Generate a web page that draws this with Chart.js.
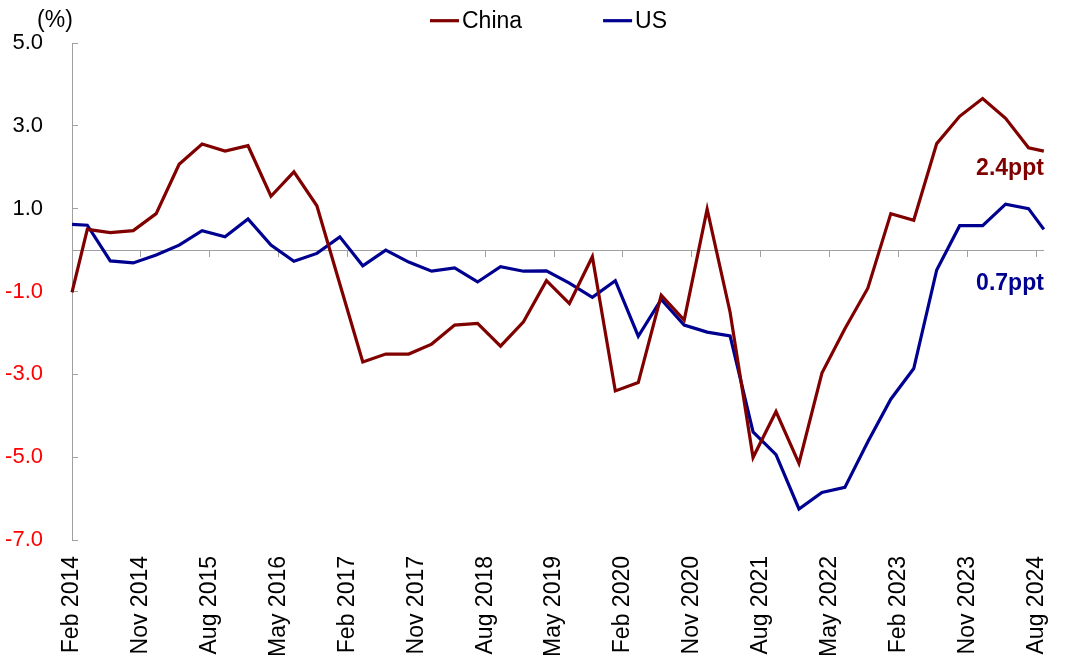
<!DOCTYPE html>
<html>
<head>
<meta charset="utf-8">
<script src="https://cdn.jsdelivr.net/npm/chart.js@4.4.1/dist/chart.umd.min.js"></script>
<style>
  html, body { margin: 0; padding: 0; background: #ffffff; }
  #wrap { width: 1080px; height: 662px; }
</style>
</head>
<body>
<div id="wrap"><canvas id="c" width="1080" height="662"></canvas></div>
<script>
// ---- DATA ----
const dates = [
  "Feb 2014","Apr 2014","Jul 2014","Oct 2014",
  "Jan 2015","Apr 2015","Jul 2015","Oct 2015",
  "Jan 2016","Apr 2016","Jul 2016","Oct 2016",
  "Jan 2017","Apr 2017","Jul 2017","Oct 2017",
  "Jan 2018","Apr 2018","Jul 2018","Oct 2018",
  "Jan 2019","Apr 2019","Jul 2019","Oct 2019",
  "Jan 2020","Apr 2020","Jul 2020","Oct 2020",
  "Jan 2021","Apr 2021","Jul 2021","Oct 2021",
  "Jan 2022","Apr 2022","Jul 2022","Oct 2022",
  "Jan 2023","Apr 2023","Jul 2023","Oct 2023",
  "Jan 2024","Apr 2024","Jul 2024","Sep 2024"
];
const china = [
  -1.02, 0.50, 0.42, 0.47,
  0.88, 2.07, 2.56, 2.39,
  2.52, 1.30, 1.89, 1.07,
  -0.82, -2.70, -2.51, -2.51,
  -2.27, -1.81, -1.77, -2.32,
  -1.73, -0.74, -1.29, -0.16,
  -3.40, -3.20, -1.09, -1.69,
  0.99, -1.50, -5.01, -3.90,
  -5.15, -2.97, -1.90, -0.92,
  0.88, 0.72, 2.57, 3.23,
  3.66, 3.18, 2.47, 2.39
];
const us = [
  0.62, 0.60, -0.26, -0.31,
  -0.12, 0.12, 0.47, 0.32,
  0.75, 0.12, -0.27, -0.08,
  0.32, -0.38, 0.00, -0.29,
  -0.51, -0.43, -0.77, -0.40,
  -0.51, -0.50, -0.80, -1.14,
  -0.74, -2.08, -1.19, -1.81,
  -1.98, -2.07, -4.39, -4.94,
  -6.25, -5.85, -5.73, -4.63,
  -3.60, -2.86, -0.48, 0.59,
  0.59, 1.11, 1.00, 0.50
];
const seriesNames = ["China", "US"];
const seriesColors = ["#800000", "#000090"];
const endLabels = ["2.4ppt", "0.7ppt"];
const xTickLabels = [
  "Feb 2014","Nov 2014","Aug 2015","May 2016","Feb 2017","Nov 2017","Aug 2018",
  "May 2019","Feb 2020","Nov 2020","Aug 2021","May 2022","Feb 2023","Nov 2023","Aug 2024"
];
const yTicks = [-7, -5, -3, -1, 1, 3, 5];
const yUnit = "(%)";

// ---- helpers ----
const MONTHS = ["Jan","Feb","Mar","Apr","May","Jun","Jul","Aug","Sep","Oct","Nov","Dec"];
function monthIndex(label) {
  const [m, y] = label.split(" ");
  return (parseInt(y, 10) - 2014) * 12 + MONTHS.indexOf(m) - 1;
}
const xMin = monthIndex(dates[0]);
const xMax = monthIndex(dates[dates.length - 1]);
const tickMap = {};
xTickLabels.forEach(l => { tickMap[monthIndex(l)] = l; });

const FONT = "'Liberation Sans', Arial, Helvetica, sans-serif";
const AXIS_GREY = "#a0a0a0";

function toPoints(vals) { return vals.map((v, i) => ({ x: monthIndex(dates[i]), y: v })); }

// custom legend (line sample + text), centred at top
const legendPlugin = {
  id: 'topLegend',
  afterDraw(chart) {
    const ctx = chart.ctx;
    ctx.save();
    ctx.font = "23px " + FONT;
    const lineLen = 29, gapText = 3, gapItems = 81;
    const widths = chart.data.datasets.map(d => lineLen + gapText + ctx.measureText(d.label).width);
    const total = widths.reduce((a, b) => a + b, 0) + gapItems * (widths.length - 1);
    let x = 548.5 - total / 2;
    const lineY = 20.7, baseY = 28.3;
    chart.data.datasets.forEach((d, i) => {
      ctx.strokeStyle = d.borderColor;
      ctx.lineWidth = 3.2;
      ctx.beginPath();
      ctx.moveTo(x, lineY);
      ctx.lineTo(x + lineLen, lineY);
      ctx.stroke();
      ctx.fillStyle = "#000000";
      ctx.textAlign = "left";
      ctx.textBaseline = "alphabetic";
      ctx.fillText(d.label, x + lineLen + gapText, baseY);
      x += widths[i] + gapItems;
    });
    ctx.restore();
  }
};

// unit label and end-of-line annotations
const textPlugin = {
  id: 'extraText',
  afterDraw(chart) {
    const ctx = chart.ctx;
    const ys = chart.scales.y, xs = chart.scales.x;
    ctx.save();
    ctx.font = "23px " + FONT;
    ctx.fillStyle = "#000000";
    ctx.textAlign = "center";
    ctx.textBaseline = "alphabetic";
    ctx.fillText(yUnit, ys.right - 17, ys.top - 16);
    const offsets = [24, 61];
    ctx.font = "bold 23px " + FONT;
    ctx.textAlign = "right";
    chart.data.datasets.forEach((d, i) => {
      const last = d.data[d.data.length - 1];
      ctx.fillStyle = d.borderColor;
      ctx.fillText(endLabels[i], xs.right, ys.getPixelForValue(last.y) + offsets[i]);
    });
    ctx.restore();
  }
};

const setXTicks = (scale) => { scale.ticks = xTickLabels.map(l => ({ value: monthIndex(l) })); };
const setYTicks = (scale) => { scale.ticks = yTicks.map(v => ({ value: v })); };

new Chart(document.getElementById('c'), {
  type: 'line',
  data: {
    datasets: [
      { label: seriesNames[0], data: toPoints(china), borderColor: seriesColors[0], backgroundColor: seriesColors[0] },
      { label: seriesNames[1], data: toPoints(us), borderColor: seriesColors[1], backgroundColor: seriesColors[1] }
    ]
  },
  options: {
    responsive: false,
    animation: false,
    devicePixelRatio: 1,
    layout: { padding: { top: 43, right: 27, bottom: 0, left: 0 } },
    elements: {
      line: { borderWidth: 3.2, tension: 0, fill: false, borderCapStyle: 'butt', borderJoinStyle: 'miter' },
      point: { radius: 0, hoverRadius: 0 }
    },
    datasets: { line: { clip: false } },
    plugins: { legend: { display: false }, tooltip: { enabled: false } },
    scales: {
      x: {
        type: 'linear',
        position: 'bottom',
        min: xMin,
        max: xMax,
        afterBuildTicks: setXTicks,
        afterFit: (s) => { s.height = 122; },
        grid: { display: false, drawTicks: false },
        border: { display: false },
        ticks: {
          autoSkip: false,
          minRotation: 90,
          maxRotation: 90,
          padding: 16,
          color: '#000000',
          font: { family: FONT, size: 23 },
          callback: (v) => tickMap[v] || ''
        }
      },
      x2: {
        type: 'linear',
        axis: 'x',
        position: { y: 0 },
        min: xMin,
        max: xMax,
        afterBuildTicks: setXTicks,
        afterFit: (s) => { s.height = 0; },
        grid: { display: true, drawOnChartArea: false, drawTicks: true, tickLength: 6, color: AXIS_GREY, lineWidth: 1 },
        border: { display: true, color: AXIS_GREY, width: 1 },
        ticks: { display: false }
      },
      y: {
        type: 'linear',
        position: 'left',
        min: yTicks[0],
        max: yTicks[yTicks.length - 1],
        afterBuildTicks: setYTicks,
        afterFit: (s) => { s.width = 72; },
        grid: { display: false, drawTicks: false },
        border: { display: false },
        ticks: {
          padding: 29,
          font: { family: FONT, size: 22 },
          color: (c) => (c.tick && c.tick.value < 0) ? '#ff0000' : '#000000',
          callback: (v) => Number(v).toFixed(1)
        }
      },
      y2: {
        type: 'linear',
        axis: 'y',
        position: { x: xMin },
        min: yTicks[0],
        max: yTicks[yTicks.length - 1],
        afterBuildTicks: setYTicks,
        afterFit: (s) => { s.width = 0; },
        grid: { display: true, drawOnChartArea: false, drawTicks: true, tickLength: -6, color: AXIS_GREY, lineWidth: 1 },
        border: { display: true, color: AXIS_GREY, width: 1 },
        ticks: { display: false }
      }
    }
  },
  plugins: [legendPlugin, textPlugin]
});
</script>
</body>
</html>
